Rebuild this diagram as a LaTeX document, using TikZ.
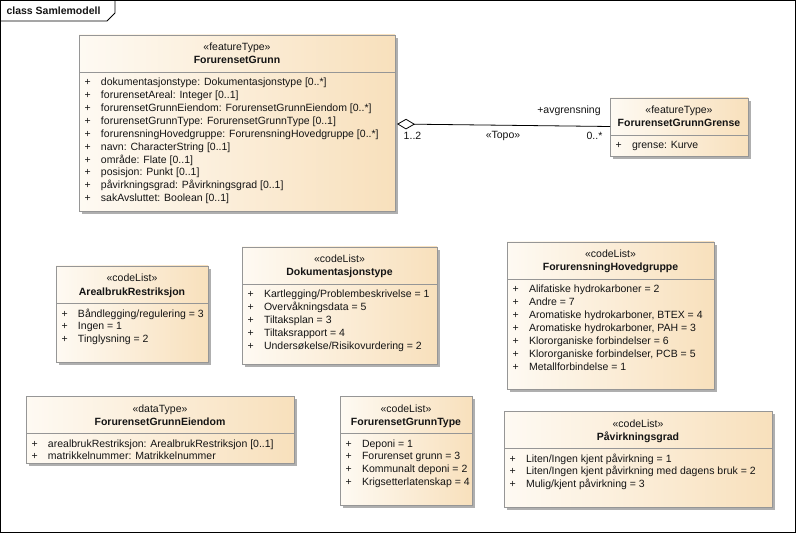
\documentclass[tikz,border=0pt]{standalone}
\usepackage{fontspec}
\setmainfont{Liberation Sans}
\usetikzlibrary{calc,shadows,arrows.meta}
\definecolor{boxgray}{RGB}{150,150,150}
\definecolor{shadowgray}{RGB}{175,175,175}
\definecolor{cremeL}{RGB}{254,250,243}
\definecolor{cremeR}{RGB}{248,224,188}
\definecolor{txt}{RGB}{20,20,20}
\tikzset{
  umlbox/.style={draw=boxgray, line width=0.8pt, left color=cremeL, right color=cremeR,
    inner sep=0pt, outer sep=0pt, anchor=north west,
    drop shadow={shadow xshift=3pt, shadow yshift=-3pt, fill=shadowgray, opacity=1}},
  txtnode/.style={inner sep=0pt, outer sep=0pt, text=txt, font=\fontsize{10.5}{12.8}\selectfont},
  stereo/.style={txtnode, anchor=base},
  cname/.style={txtnode, anchor=base, font=\fontsize{10.5}{12.8}\selectfont\bfseries},
  attr/.style={txtnode, anchor=base west},
  divline/.style={draw=boxgray, line width=0.8pt},
  assoclabel/.style={txtnode, anchor=base}
}
\newcommand\umlhead[3]{%
  \node[stereo] (#1-st) at ($(#1.north)+(0,16)$) {«#2»};
  \node[cname] (#1-nm) at ($(#1.north)+(0,29)$) {#3};
  \draw[divline] ($(#1.north west)+(0,37.5)$) -- ($(#1.north east)+(0,37.5)$);
}
\newcommand\umlattrs[2]{%
  \foreach \atxt [count=\i from 0] in {#2} {
    \node[attr] (#1-a\i) at ($(#1.north west)+(5.5,51+\i*12.85)$) {\makebox[16.5pt][l]{+}\atxt};
  }
}
\begin{document}
\begin{tikzpicture}[x=1pt,y=-1pt]
\useasboundingbox (0,0) rectangle (797,534);
% frame
\draw[line width=0.9pt, black] (0.5,0.5) rectangle (795.5,532.5);
\draw[line width=0.9pt, black] (0.5,21) -- (107,21) -- (115,13) -- (115,0.5);
\node[txtnode, anchor=base west, font=\fontsize{10.5}{12.8}\selectfont\bfseries] (frametitle) at (6.5,15) {class Samlemodell};

% boxes
\node[umlbox, minimum width=316pt, minimum height=176pt] (fg) at (79,35) {};
\node[umlbox, minimum width=138pt, minimum height=58pt] (fgg) at (610,98) {};
\node[umlbox, minimum width=152pt, minimum height=96pt] (ar) at (56,266) {};
\node[umlbox, minimum width=195pt, minimum height=117pt] (dok) at (242,247) {};
\node[umlbox, minimum width=207pt, minimum height=147pt] (fhg) at (507,242) {};
\node[umlbox, minimum width=268pt, minimum height=67pt] (fge) at (26,396) {};
\node[umlbox, minimum width=132pt, minimum height=109pt] (fgt) at (340,396) {};
\node[umlbox, minimum width=268pt, minimum height=96pt] (pg) at (504,411) {};

\umlhead{fg}{featureType}{ForurensetGrunn}
\umlattrs{fg}{{dokumentasjonstype: Dokumentasjonstype [0..*]},
  {forurensetAreal: Integer [0..1]},
  {forurensetGrunnEiendom: ForurensetGrunnEiendom [0..*]},
  {forurensetGrunnType: ForurensetGrunnType [0..1]},
  {forurensningHovedgruppe: ForurensningHovedgruppe [0..*]},
  {navn: CharacterString [0..1]},
  {område: Flate [0..1]},
  {posisjon: Punkt [0..1]},
  {påvirkningsgrad: Påvirkningsgrad [0..1]},
  {sakAvsluttet: Boolean [0..1]}}

\umlhead{fgg}{featureType}{ForurensetGrunnGrense}
\umlattrs{fgg}{{grense: Kurve}}

\umlhead{ar}{codeList}{ArealbrukRestriksjon}
\umlattrs{ar}{{Båndlegging/regulering = 3},{Ingen = 1},{Tinglysning = 2}}

\umlhead{dok}{codeList}{Dokumentasjonstype}
\umlattrs{dok}{{Kartlegging/Problembeskrivelse = 1},{Overvåkningsdata = 5},{Tiltaksplan = 3},{Tiltaksrapport = 4},{Undersøkelse/Risikovurdering = 2}}

\umlhead{fhg}{codeList}{ForurensningHovedgruppe}
\umlattrs{fhg}{{Alifatiske hydrokarboner = 2},{Andre = 7},{Aromatiske hydrokarboner, BTEX = 4},{Aromatiske hydrokarboner, PAH = 3},{Klororganiske forbindelser = 6},{Klororganiske forbindelser, PCB = 5},{Metallforbindelse = 1}}

\umlhead{fge}{dataType}{ForurensetGrunnEiendom}
\umlattrs{fge}{{arealbrukRestriksjon: ArealbrukRestriksjon [0..1]},{matrikkelnummer: Matrikkelnummer}}

\umlhead{fgt}{codeList}{ForurensetGrunnType}
\umlattrs{fgt}{{Deponi = 1},{Forurenset grunn = 3},{Kommunalt deponi = 2},{Krigsetterlatenskap = 4}}

\umlhead{pg}{codeList}{Påvirkningsgrad}
\umlattrs{pg}{{Liten/Ingen kjent påvirkning = 1},{Liten/Ingen kjent påvirkning med dagens bruk = 2},{Mulig/kjent påvirkning = 3}}

% association
\draw[line width=0.8pt, black, {Diamond[open, length=18pt, width=10.5pt, line width=0.8pt]}-]
  ([xshift=2pt,yshift=-1pt]fg.east) -- ([yshift=0.5pt]fgg.west);
\node[assoclabel] (rolename) at (569,114) {+avgrensning};
\node[assoclabel] (stereolbl) at (503,138.5) {«Topo»};
\node[assoclabel] (mult1) at (412.5,140) {1..2};
\node[assoclabel] (mult2) at (594.5,140) {0..*};
\end{tikzpicture}
\end{document}
